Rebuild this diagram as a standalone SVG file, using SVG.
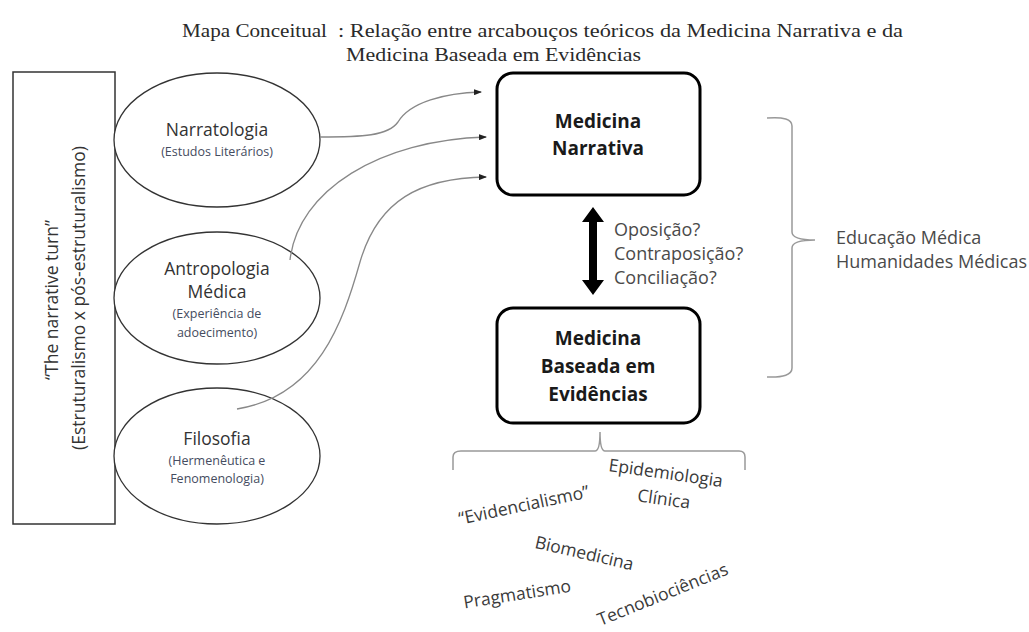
<svg xmlns="http://www.w3.org/2000/svg" width="1029" height="632" viewBox="0 0 1029 632">
<style>
.title{font-family:"Liberation Serif",serif;font-size:19px;fill:#2a2a2a}
.t{font-family:"Open Sans",sans-serif;fill:#333}
.main{font-size:17.5px;text-anchor:middle}
.sub{font-size:12.5px;text-anchor:middle;fill:#454c60}
.box{fill:#fff;stroke:#000;stroke-width:3}
.ell{fill:#fff;stroke:#333;stroke-width:1.3}
.bold{font-family:"Open Sans",sans-serif;font-weight:bold;font-size:19px;fill:#1a1a1a;text-anchor:middle}
.lbl{font-size:18px;fill:#4a4a4a}
.conn{fill:none;stroke:#888;stroke-width:1.3}
.brace{fill:none;stroke:#999;stroke-width:1.5}
.bt{font-size:17.5px;text-anchor:middle;fill:#3a3a3a}
</style>
<defs>
<marker id="ah" markerWidth="8" markerHeight="6" refX="7" refY="3" orient="auto" markerUnits="userSpaceOnUse">
<path d="M0,0 L8,3 L0,6 Z" fill="#222"/>
</marker>
</defs>
<rect width="1029" height="632" fill="#fff"/>
<g id="title">
<text class="title" x="182" y="37" textLength="145" lengthAdjust="spacingAndGlyphs">Mapa Conceitual</text>
<text class="title" x="338" y="37" textLength="565" lengthAdjust="spacingAndGlyphs">: Relação entre arcabouços teóricos da Medicina Narrativa e da</text>
<text class="title" x="346" y="61" textLength="295" lengthAdjust="spacingAndGlyphs">Medicina Baseada em Evidências</text>
</g>
<g id="narrative-turn">
<rect x="13" y="72" width="102" height="452" fill="#fff" stroke="#333" stroke-width="1.5"/>
<text class="t main" transform="translate(58,300) rotate(-90)" font-size="18.5">“The narrative turn”</text>
<text class="t main" transform="translate(85,298) rotate(-90)" font-size="18.5">(Estruturalismo x pós-estruturalismo)</text>
</g>
<g id="narratologia">
<ellipse class="ell" cx="217" cy="140" rx="103" ry="67"/>
<text class="t main" x="217" y="136">Narratologia</text>
<text class="t sub" x="217" y="156">(Estudos Literários)</text>
</g>
<g id="antropologia">
<ellipse class="ell" cx="217" cy="298" rx="103" ry="66"/>
<text class="t main" x="217" y="275">Antropologia</text>
<text class="t main" x="217" y="298">Médica</text>
<text class="t sub" x="217" y="318">(Experiência de</text>
<text class="t sub" x="217" y="337">adoecimento)</text>
</g>
<g id="filosofia">
<ellipse class="ell" cx="217" cy="456" rx="103" ry="68"/>
<text class="t main" x="217" y="445">Filosofia</text>
<text class="t sub" x="217" y="465">(Hermenêutica e</text>
<text class="t sub" x="217" y="483">Fenomenologia)</text>
</g>
<g id="medicina-narrativa">
<rect class="box" x="497" y="73" width="203" height="122" rx="16"/>
<text class="bold" x="598" y="128">Medicina</text>
<text class="bold" x="598" y="155">Narrativa</text>
</g>
<g id="mbe">
<rect class="box" x="497" y="308" width="203" height="115" rx="16"/>
<text class="bold" x="598" y="345">Medicina</text>
<text class="bold" x="598" y="373">Baseada em</text>
<text class="bold" x="598" y="401">Evidências</text>
</g>
<g id="relacao">
<text class="t lbl" x="614" y="236">Oposição?</text>
<text class="t lbl" x="614" y="260">Contraposição?</text>
<text class="t lbl" x="614" y="284">Conciliação?</text>
</g>
<g id="educacao">
<text class="t lbl" x="836" y="244">Educação Médica</text>
<text class="t lbl" x="836" y="268">Humanidades Médicas</text>
</g>
<g id="mbe-topics">
<text class="t bt" transform="translate(525,511) rotate(-12)">“Evidencialismo”</text>
<text class="t bt" transform="translate(665,479) rotate(8)">Epidemiologia</text>
<text class="t bt" transform="translate(663,505) rotate(8)">Clínica</text>
<text class="t bt" transform="translate(583,559) rotate(13)">Biomedicina</text>
<text class="t bt" transform="translate(518,600) rotate(-9)">Pragmatismo</text>
<text class="t bt" transform="translate(665,600) rotate(-22)">Tecnobiociências</text>
</g>
<g id="connectors">
<path class="conn" marker-end="url(#ah)" d="M320,137 C362,137 388,136 398,122 C410,102 445,93 481,92"/>
<path class="conn" marker-end="url(#ah)" d="M290,260 C298,190 380,140 486,137"/>
<path class="conn" marker-end="url(#ah)" d="M237,409 C318,396 343,322 360,262 C378,200 420,178 486,177"/>
<polygon fill="#000" points="593,207 604,222 597,222 597,280 604,280 593,295 582,280 589,280 589,222 582,222"/>
<path class="brace" d="M767,118 Q792,116 792,126 L792,232 Q792,240 815,240 Q792,240 792,248 L792,368 Q792,378 767,377"/>
<path class="brace" d="M453,470 L453,457 Q453,451 461,451 L595,451 Q600,451 600,432 Q600,451 605,451 L739,451 Q745,451 745,457 L745,470"/>
</g>
</svg>
